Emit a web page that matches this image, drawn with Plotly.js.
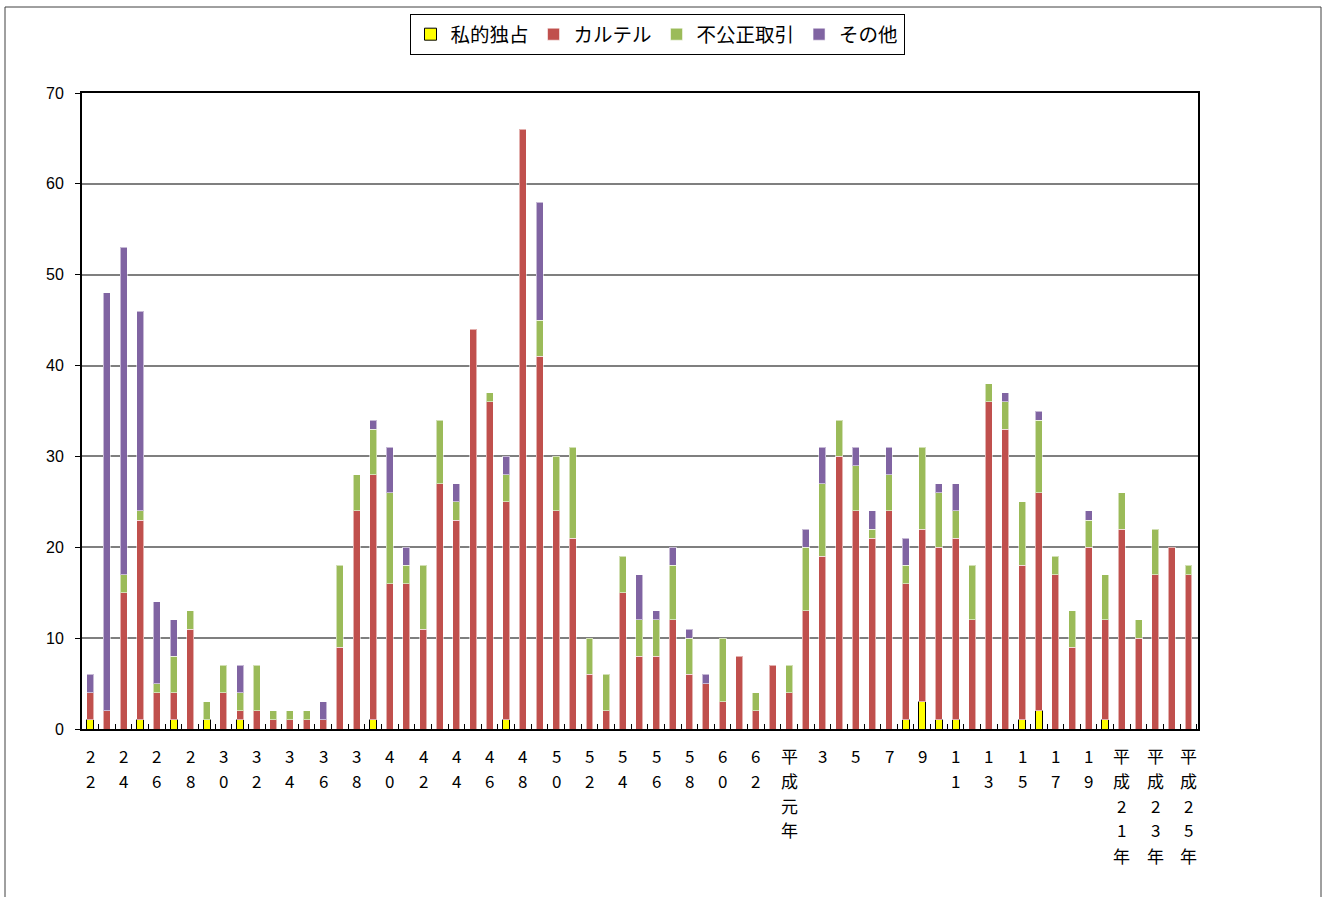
<!DOCTYPE html>
<html>
<head>
<meta charset="utf-8">
<script src="https://cdn.plot.ly/plotly-3.0.1.min.js"></script>
<style>
html,body{margin:0;padding:0;background:#fff;}
#chart{width:1323px;height:897px;}
</style>
</head>
<body>
<div id="chart"></div>
<script>
// Categories: 昭和22年 … 昭和63年, 平成元年 … 平成25年
const categories = [
  '昭和22','昭和23','昭和24','昭和25','昭和26','昭和27','昭和28','昭和29','昭和30','昭和31',
  '昭和32','昭和33','昭和34','昭和35','昭和36','昭和37','昭和38','昭和39','昭和40','昭和41',
  '昭和42','昭和43','昭和44','昭和45','昭和46','昭和47','昭和48','昭和49','昭和50','昭和51',
  '昭和52','昭和53','昭和54','昭和55','昭和56','昭和57','昭和58','昭和59','昭和60','昭和61',
  '昭和62','昭和63',
  '平成元年','平成2','平成3','平成4','平成5','平成6','平成7','平成8','平成9','平成10',
  '平成11','平成12','平成13','平成14','平成15','平成16','平成17','平成18','平成19','平成20',
  '平成21','平成22','平成23','平成24','平成25'
];

// Tick labels as printed (every other category); drawn one character per line
const tickLabels = [
  '22','','24','','26','','28','','30','',
  '32','','34','','36','','38','','40','',
  '42','','44','','46','','48','','50','',
  '52','','54','','56','','58','','60','',
  '62','',
  '平成元年','','3','','5','','7','','9','',
  '11','','13','','15','','17','','19','',
  '平成21年','','平成23年','','平成25年'
];

const seriesNames = ['私的独占','カルテル','不公正取引','その他'];

const shitekiDokusen = [
  1,0,0,1,0,1,0,1,0,1,
  0,0,0,0,0,0,0,1,0,0,
  0,0,0,0,0,1,0,0,0,0,
  0,0,0,0,0,0,0,0,0,0,
  0,0,
  0,0,0,0,0,0,0,1,3,1,
  1,0,0,0,1,2,0,0,0,1,
  0,0,0,0,0
];

const cartel = [
  3,2,15,22,4,3,11,0,4,1,
  2,1,1,1,1,9,24,27,16,16,
  11,27,23,44,36,24,66,41,24,21,
  6,2,15,8,8,12,6,5,3,8,
  2,7,
  4,13,19,30,24,21,24,15,19,19,
  20,12,36,33,17,24,17,9,20,11,
  22,10,17,20,17
];

const fukouseiTorihiki = [
  0,0,2,1,1,4,2,2,3,2,
  5,1,1,1,0,9,4,5,10,2,
  7,7,2,0,1,3,0,4,6,10,
  4,4,4,4,4,6,4,0,7,0,
  2,0,
  3,7,8,4,5,1,4,2,9,6,
  3,6,2,3,7,8,2,4,3,5,
  4,2,5,0,1
];

const sonota = [
  2,46,36,22,9,4,0,0,0,3,
  0,0,0,0,2,0,0,1,5,2,
  0,0,2,0,0,2,0,13,0,0,
  0,0,0,5,1,2,1,1,0,0,
  0,0,
  0,2,4,0,2,2,3,3,0,1,
  3,0,0,1,0,1,0,0,1,0,
  0,0,0,0,0
];

const seriesValues = [shitekiDokusen, cartel, fukouseiTorihiki, sonota];
const colors = ['#FFFF00','#C0504D','#9BBB59','#8064A2'];
const lineColors = ['#000000','rgba(255,255,255,0.55)','rgba(255,255,255,0.55)','rgba(255,255,255,0.55)'];

const traces = seriesValues.map((vals, i) => ({
  type: 'bar',
  name: seriesNames[i],
  x: categories,
  y: vals.map(v => v === 0 ? null : v),
  marker: {color: colors[i], line: {color: lineColors[i], width: 1}},
  hoverinfo: 'x+y+name'
}));

const L = 82, R = 1198, T = 93, B = 729;
const pw = R - L, ph = B - T;
const px = v => (v - L) / pw;
const py = v => (B - v) / ph;

// vertical (one character per line) category labels
const annotations = [];
tickLabels.forEach((lab, i) => {
  Array.from(lab).forEach((ch, k) => {
    annotations.push({
      x: categories[i], xref: 'x',
      y: py(755 + 25 * k), yref: 'paper',
      text: ch, showarrow: false,
      xanchor: 'center', yanchor: 'middle',
      borderpad: 0,
      font: {size: 17, family: '"Noto Sans CJK JP", sans-serif', color: '#000'}
    });
  });
});

const layout = {
  width: 1323,
  height: 897,
  margin: {l: L, r: 1323 - R, t: T, b: 897 - B, pad: 0},
  paper_bgcolor: '#ffffff',
  plot_bgcolor: '#ffffff',
  barmode: 'stack',
  bargap: 0.58,
  font: {family: '"Noto Sans CJK JP", "Liberation Sans", sans-serif', color: '#000000'},
  showlegend: true,
  legend: {
    orientation: 'h',
    x: px(657), xanchor: 'center',
    y: py(14), yanchor: 'top',
    bordercolor: '#000000', borderwidth: 1,
    bgcolor: '#ffffff',
    font: {size: 19.5, family: '"Noto Sans CJK JP", sans-serif', color: '#000'},
    traceorder: 'normal',
    itemwidth: 30
  },
  xaxis: {
    type: 'category',
    tickmode: 'array',
    tickvals: categories,
    showticklabels: false,
    tickson: 'boundaries',
    ticks: 'inside',
    ticklen: 5,
    tickwidth: 1,
    tickcolor: '#000000',
    showline: true, linecolor: '#000000', linewidth: 2, mirror: true,
    showgrid: false,
    automargin: false,
    fixedrange: true
  },
  yaxis: {
    range: [0, 70],
    dtick: 10,
    tick0: 0,
    ticks: 'outside',
    ticklen: 5,
    tickwidth: 1,
    tickcolor: '#000000',
    showline: true, linecolor: '#000000', linewidth: 2, mirror: true,
    showgrid: true, gridcolor: '#7f7f7f', gridwidth: 2,
    zeroline: false,
    tickfont: {size: 16, family: '"Liberation Sans", Arial, sans-serif', color: '#000'},
    ticklabelstandoff: 8,
    automargin: false,
    fixedrange: true
  },
  annotations: annotations,
  shapes: [{
    type: 'rect', xref: 'paper', yref: 'paper', layer: 'below',
    x0: px(5), x1: px(1321), y0: py(7), y1: py(1000),
    line: {color: '#404040', width: 1}, fillcolor: 'rgba(0,0,0,0)'
  }]
};

Plotly.newPlot('chart', traces, layout, {displayModeBar: false, staticPlot: true});
</script>
</body>
</html>
